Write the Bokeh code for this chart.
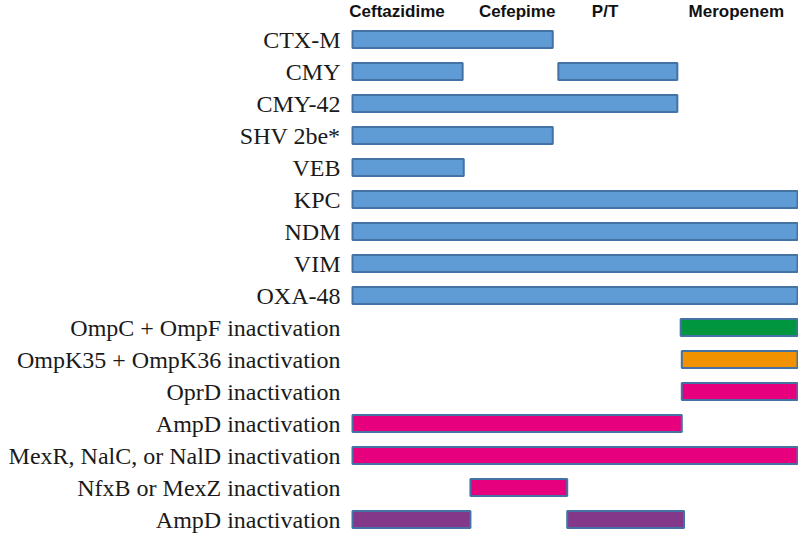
from bokeh.plotting import figure
from bokeh.models import ColumnDataSource, Range1d
from bokeh.core.properties import value
from bokeh.embed import file_html
from bokeh.resources import INLINE

# ---- data ----
mechanisms = [
    "CTX-M", "CMY", "CMY-42", "SHV 2be*", "VEB", "KPC", "NDM", "VIM", "OXA-48",
    "OmpC + OmpF inactivation", "OmpK35 + OmpK36 inactivation", "OprD inactivation",
    "AmpD inactivation", "MexR, NalC, or NalD inactivation",
    "NfxB or MexZ inactivation", "AmpD inactivation",
]
drugs = ["Ceftazidime", "Cefepime", "P/T", "Meropenem"]
drug_label_pos = [0.40, 1.48, 2.27, 3.45]

# bar segments: row index, start, end, group
seg_row   = [0, 1, 1, 2, 3, 4, 5, 6, 7, 8, 9, 10, 11, 12, 13, 14, 15, 15]
seg_start = [0.0, 0.0, 1.85, 0.0, 0.0, 0.0, 0.0, 0.0, 0.0, 0.0, 2.95, 2.96, 2.96, 0.0, 0.0, 1.06, 0.0, 1.93]
seg_end   = [1.80, 0.99, 2.92, 2.92, 1.80, 1.0, 4.0, 4.0, 4.0, 4.0, 4.0, 4.0, 4.0, 2.96, 4.0, 1.93, 1.06, 2.98]
seg_group = ["enzyme"] * 10 + ["omp", "ompk", "pseudo", "pseudo", "pseudo", "pseudo", "ampd2", "ampd2"]

group_colors = {
    "enzyme": "#5F9CD6",
    "omp": "#00963F",
    "ompk": "#F39200",
    "pseudo": "#E6007E",
    "ampd2": "#84388A",
}

W, H = 798, 534
sc = 111.25
x_start = -352 / sc
x_end = x_start + W / sc
y_top = -39 / 32
y_bottom = y_top + H / 32

p = figure(width=W, height=H, output_backend="svg", toolbar_location=None,
           x_range=Range1d(x_start, x_end), y_range=Range1d(y_bottom, y_top),
           min_border=0, outline_line_color=None)
p.axis.visible = False
p.grid.visible = False
p.background_fill_color = "white"
p.border_fill_color = "white"

src = ColumnDataSource(dict(
    y=seg_row, left=seg_start, right=seg_end,
    color=[group_colors[g] for g in seg_group],
))
p.hbar(y="y", left="left", right="right", height=0.53, source=src,
       fill_color="color", line_color="#4472A4", line_width=2)

lab = ColumnDataSource(dict(x=[-0.108] * len(mechanisms), y=list(range(len(mechanisms))), t=mechanisms))
p.text(x="x", y="y", text="t", source=lab, text_align="right", text_baseline="middle",
       text_font=value("Liberation Serif"), text_font_size="24px", text_color="#1a1a1a")

hdr = ColumnDataSource(dict(x=drug_label_pos, y=[y_top + 1.5 / 32] * len(drugs), t=drugs))
p.text(x="x", y="y", text="t", source=hdr, text_align="center", text_baseline="top",
       text_font=value("Liberation Sans"), text_font_style="bold", text_font_size="17px",
       text_color="#111111")

open("out.html", "w").write(file_html(p, INLINE))
